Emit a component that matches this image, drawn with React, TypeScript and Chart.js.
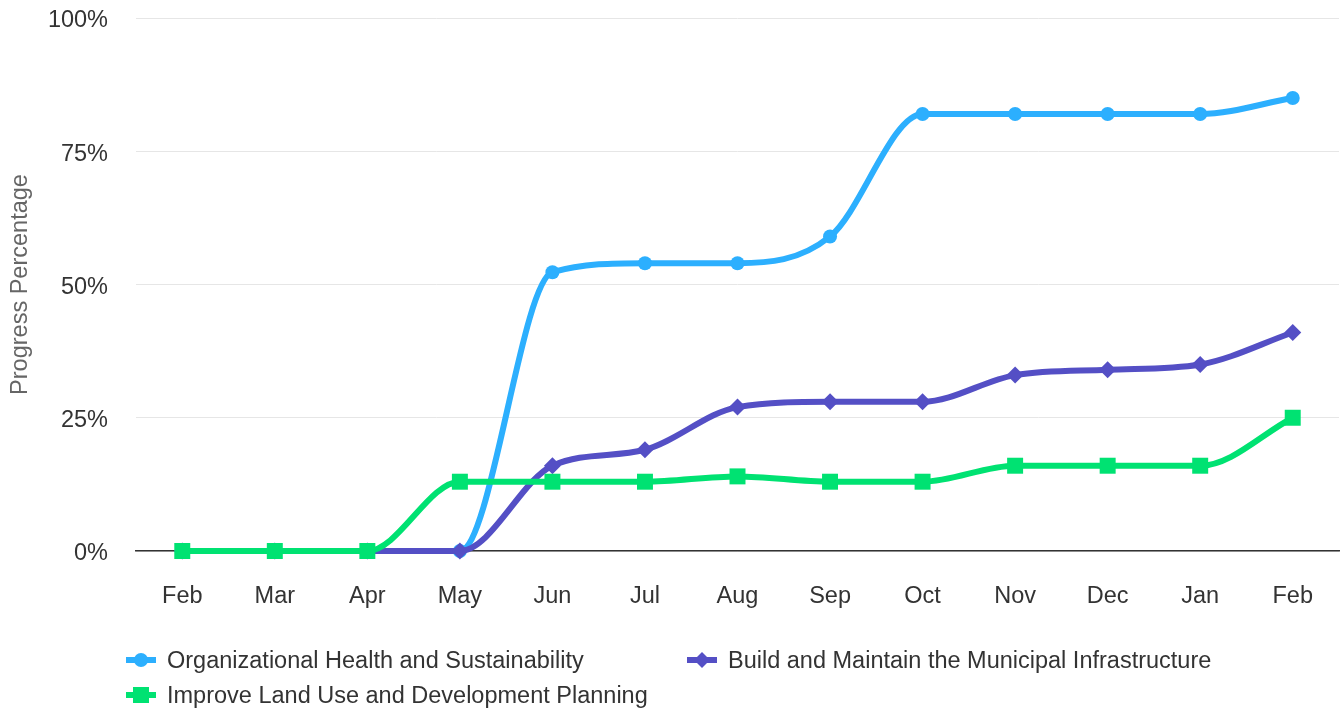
import React, { useEffect, useRef } from "react";
import { Chart, registerables } from "chart.js";

Chart.register(...registerables);

const months = ["Feb", "Mar", "Apr", "May", "Jun", "Jul", "Aug", "Sep", "Oct", "Nov", "Dec", "Jan", "Feb"];
const orgHealth = [0, 0, 0, 0, 52.3, 54, 54, 59, 82, 82, 82, 82, 85];
const infrastructure = [0, 0, 0, 0, 16, 19, 27, 28, 28, 33, 34, 35, 41];
const landUse = [0, 0, 0, 13, 13, 13, 14, 13, 13, 16, 16, 16, 25];
const yTicks = [0, 25, 50, 75, 100];

const seriesNames = [
  "Organizational Health and Sustainability",
  "Build and Maintain the Municipal Infrastructure",
  "Improve Land Use and Development Planning",
];
const colors = ["#2caffe", "#544fc5", "#00e272"];

const FONT = "'Liberation Sans', Arial, Helvetica, sans-serif";
const FS = 23.5;

function LegendIcon({ idx }: { idx: number }) {
  const c = colors[idx];
  return (
    <svg width={30} height={16} style={{ display: "block" }}>
      <line x1={1} y1={8} x2={29} y2={8} stroke={c} strokeWidth={6} strokeLinecap="round" />
      {idx === 0 && <circle cx={15} cy={8} r={7} fill={c} />}
      {idx === 1 && <polygon points="15,0 23,8 15,16 7,8" fill={c} />}
      {idx === 2 && <rect x={7} y={0} width={16} height={16} fill={c} />}
    </svg>
  );
}

export default function App() {
  const ref = useRef<HTMLCanvasElement | null>(null);

  useEffect(() => {
    if (!ref.current) return;
    const chart = new Chart(ref.current, {
      type: "line",
      data: {
        labels: months,
        datasets: [
          {
            label: seriesNames[0],
            data: orgHealth,
            borderColor: colors[0],
            backgroundColor: colors[0],
            borderWidth: 6,
            pointStyle: "circle",
            pointRadius: 7,
            pointBorderWidth: 0,
            cubicInterpolationMode: "monotone",
            clip: false as any,
            order: 2,
          },
          {
            label: seriesNames[1],
            data: infrastructure,
            borderColor: colors[1],
            backgroundColor: colors[1],
            borderWidth: 6,
            pointStyle: "rectRot",
            pointRadius: 8.5,
            pointBorderWidth: 0,
            cubicInterpolationMode: "monotone",
            clip: false as any,
            order: 1,
          },
          {
            label: seriesNames[2],
            data: landUse,
            borderColor: colors[2],
            backgroundColor: colors[2],
            borderWidth: 6,
            pointStyle: "rect",
            pointRadius: 11.3,
            pointBorderWidth: 0,
            cubicInterpolationMode: "monotone",
            clip: false as any,
            order: 0,
          },
        ],
      },
      options: {
        responsive: false,
        animation: false,
        layout: { autoPadding: false, padding: { top: 18, right: 4, bottom: 103, left: 0 } },
        plugins: {
          legend: { display: false },
          tooltip: { enabled: false },
        },
        scales: {
          x: {
            offset: true,
            afterFit: (scale: any) => {
              scale.height = 57;
              scale.paddingLeft = 0;
              scale.paddingRight = 0;
            },
            grid: { display: false, drawTicks: true, tickLength: 31 },
            border: { display: true, color: "#333333", width: 1.5 },
            ticks: {
              color: "#333333",
              font: { family: FONT, size: FS },
              padding: 0,
              maxRotation: 0,
              autoSkip: false,
            },
          },
          y: {
            min: 0,
            max: 100,
            afterFit: (scale: any) => {
              scale.width = 136;
            },
            afterBuildTicks: (scale: any) => {
              scale.ticks = yTicks.map((v) => ({ value: v }));
            },
            grid: {
              color: "#e6e6e6",
              lineWidth: 1,
              drawTicks: true,
              tickLength: 28,
              tickColor: "rgba(0,0,0,0)",
            },
            border: { display: false },
            ticks: {
              color: "#333333",
              font: { family: FONT, size: FS },
              padding: 0,
              labelOffset: 3,
              callback: (v: any) => v + "%",
            },
            title: {
              display: true,
              text: "Progress Percentage",
              color: "#666666",
              font: { family: FONT, size: FS },
              padding: { top: 6, bottom: 0 },
            },
          },
        },
      },
    });
    return () => chart.destroy();
  }, []);

  const itemStyle: React.CSSProperties = {
    position: "absolute",
    display: "flex",
    alignItems: "center",
    fontFamily: FONT,
    fontSize: FS,
    color: "#333333",
    whiteSpace: "nowrap",
    height: 30,
  };

  const positions = [
    { left: 126, top: 645 },
    { left: 687, top: 645 },
    { left: 126, top: 680 },
  ];

  return (
    <div style={{ position: "absolute", left: 0, top: 0, width: 1343, height: 711, background: "#fff" }}>
      <canvas ref={ref} width={1343} height={711} style={{ display: "block" }} />
      {positions.map((p, i) => (
        <div key={i} style={{ ...itemStyle, left: p.left, top: p.top }}>
          <LegendIcon idx={i} />
          <span style={{ marginLeft: 11 }}>{seriesNames[i]}</span>
        </div>
      ))}
    </div>
  );
}
